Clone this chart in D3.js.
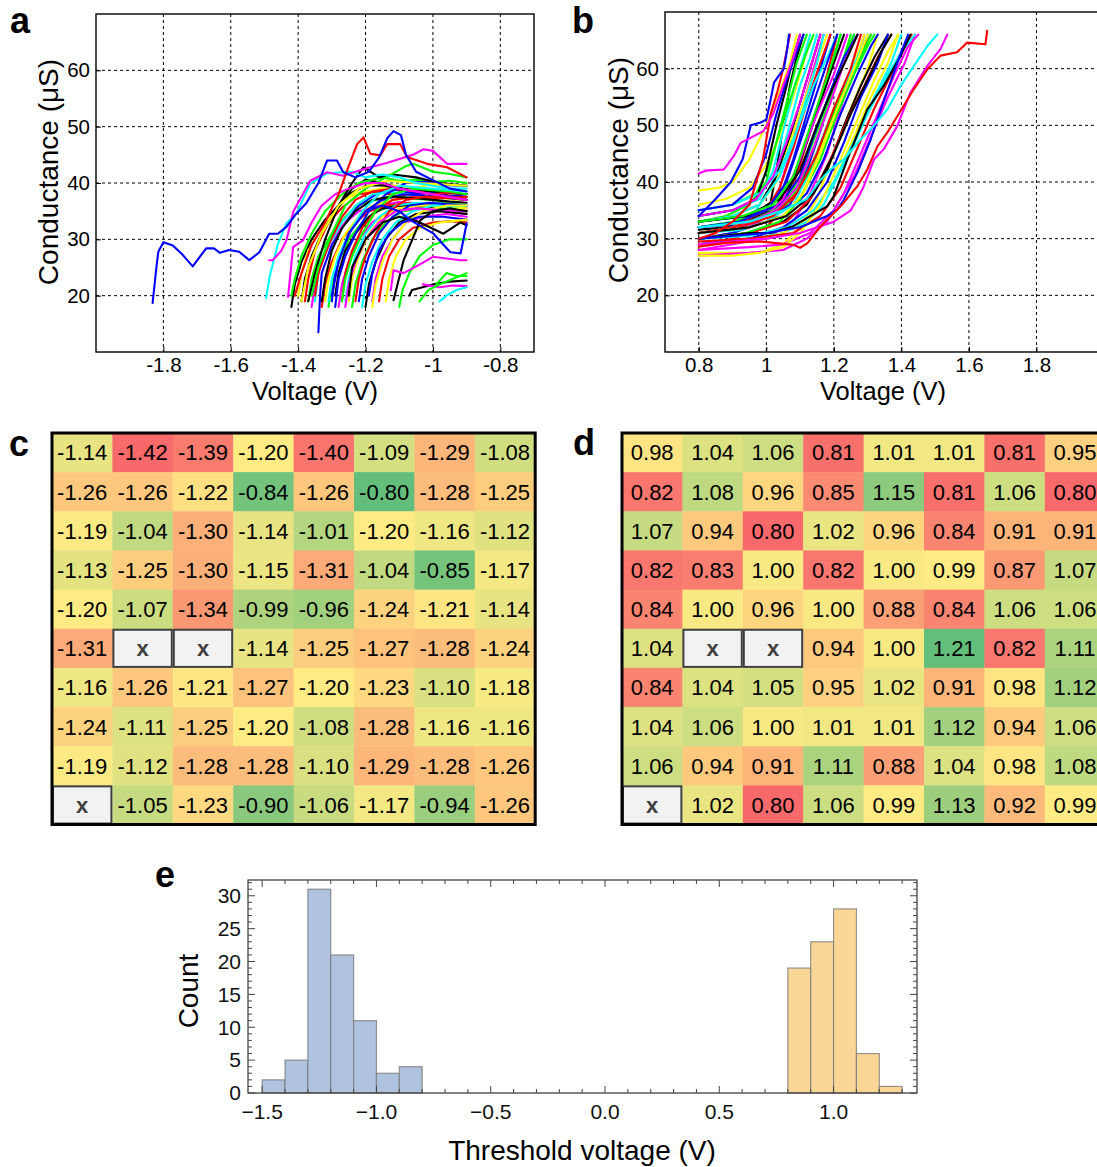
<!DOCTYPE html>
<html>
<head>
<meta charset="utf-8">
<script src="https://cdn.jsdelivr.net/npm/d3@7"></script>
<style>
  body { margin: 0; background: #fff; }
  svg { display: block; }
  text { font-family: "Liberation Sans", Arial, Helvetica, sans-serif; }
</style>
</head>
<body>
<svg id="fig" width="1097" height="1167"></svg>
<script>
// ---------- data ----------
// Panel a: negative-bias sweeps, each trace as flat [V, G, V, G, ...] (V in volts, G in µS)
const sweepsNeg = [
  [-1.42,18, -1.41,22, -1.39,26, -1.36,30, -1.32,33.5, -1.28,36, -1.24,39, -1.2,40.6, -1.15,40, -1.1,39.2, -1.05,38.4, -1.0,38.8, -0.95,37.6, -0.9,37.5],
  [-1.40,20, -1.39,24, -1.37,28, -1.34,31, -1.3,34.2, -1.26,37, -1.22,38.3, -1.17,38.8, -1.12,39.6, -1.05,39.2, -1.0,39.8, -0.95,38.7, -0.9,39],
  [-1.38,19, -1.37,23, -1.35,28, -1.31,33, -1.27,35.6, -1.22,38, -1.16,38.5, -1.1,37.6, -1.05,38.2, -1.0,37.4, -0.95,37.8, -0.9,37],
  [-1.37,19, -1.36,23, -1.34,27, -1.3,31, -1.26,34, -1.22,36.2, -1.17,37, -1.12,37.8, -1.06,37.2, -1.0,37, -0.95,36.4, -0.9,36],
  [-1.34,13.5, -1.335,20, -1.33,24, -1.3,29, -1.26,33, -1.22,36, -1.17,38, -1.12,38.9, -1.06,38.2, -1.0,38.3, -0.95,37.6, -0.9,38],
  [-1.39,19, -1.38,23, -1.36,27, -1.33,31, -1.29,35, -1.25,38, -1.2,39.5, -1.15,39.6, -1.1,39, -1.05,38.8, -1.0,38.5, -0.95,38.2, -0.9,38],
  [-1.36,18, -1.35,22, -1.33,26, -1.3,30, -1.26,33, -1.22,35, -1.16,36, -1.1,36.6, -1.04,36.2, -0.98,36, -0.9,35.5],
  [-1.35,19, -1.34,24, -1.31,29, -1.27,33, -1.23,36, -1.18,38, -1.12,38.4, -1.06,37.8, -1.0,37.5, -0.95,37.2, -0.9,37],
  [-1.33,18, -1.32,22, -1.3,26, -1.27,30, -1.23,33, -1.19,35, -1.13,36, -1.07,36.5, -1.0,36.2, -0.95,36, -0.9,36],
  [-1.32,19, -1.31,23, -1.29,27, -1.26,31, -1.22,34, -1.18,36, -1.12,37, -1.06,37.4, -1.0,37.6, -0.95,37.1, -0.9,37],
  [-1.31,18, -1.3,22, -1.28,26, -1.25,30, -1.21,33, -1.17,35, -1.11,36, -1.05,36.2, -1.0,35.8, -0.95,35.4, -0.9,35],
  [-1.3,19, -1.29,24, -1.27,28, -1.24,32, -1.2,35, -1.15,37, -1.09,38, -1.03,37.8, -0.97,37.4, -0.9,37],
  [-1.29,20, -1.28,24, -1.26,28, -1.23,31, -1.19,34, -1.15,35.5, -1.09,36, -1.03,35.8, -0.97,35.3, -0.9,35],
  [-1.28,18, -1.27,22, -1.25,26, -1.22,30, -1.18,33, -1.13,35, -1.07,35.5, -1.0,35.2, -0.95,34.8, -0.9,34.5],
  [-1.27,19, -1.26,24, -1.24,28, -1.21,32, -1.17,35, -1.12,37, -1.06,37.5, -1.0,37.2, -0.95,37.4, -0.9,37],
  [-1.26,19, -1.25,23, -1.23,27, -1.2,31, -1.16,34, -1.11,36, -1.05,36.5, -0.98,36.3, -0.9,36],
  [-1.25,19, -1.24,23, -1.22,27, -1.19,31, -1.15,34, -1.1,35.5, -1.04,36, -0.97,35.8, -0.9,35.5],
  [-1.24,18, -1.23,22, -1.21,26, -1.18,30, -1.14,33, -1.09,35, -1.03,35.5, -0.96,35.2, -0.9,35],
  [-1.22,19, -1.21,23, -1.19,27, -1.16,31, -1.12,34, -1.07,36, -1.01,36.5, -0.95,36.2, -0.9,36],
  [-1.2,18, -1.19,22, -1.17,26, -1.14,30, -1.1,33, -1.05,34.5, -0.98,35, -0.9,34.5],
  [-1.18,19, -1.17,23, -1.15,27, -1.12,30, -1.08,33, -1.03,34, -0.96,34.5, -0.9,34],
  [-1.16,19, -1.15,23, -1.13,27, -1.1,30, -1.06,32, -1.0,33, -0.95,33.2, -0.9,33],
  [-1.42,20, -1.41,23, -1.39,27, -1.36,31, -1.32,35, -1.27,38, -1.22,40, -1.15,41, -1.1,40.4, -1.05,40.6, -1.0,40.2, -0.95,40.4, -0.9,40],
  [-1.21,18, -1.2,22, -1.18,26, -1.15,30, -1.11,33, -1.06,35, -1.0,36, -0.95,35.8, -0.9,36],
  [-1.35,20, -1.34,24, -1.31,29, -1.27,34, -1.23,37, -1.18,38.5, -1.12,39, -1.06,38.6, -1.0,38, -0.95,38.3, -0.9,38],
  [-1.29,18, -1.28,23, -1.26,27, -1.23,31, -1.19,35, -1.14,38, -1.08,40, -1.02,40.2, -0.96,39.6, -0.9,39.5],
  [-1.18,18, -1.17,22, -1.15,26, -1.12,30, -1.08,33, -1.03,35, -0.96,36, -0.9,36],
  [-1.33,19, -1.32,23, -1.3,28, -1.27,32, -1.23,35, -1.18,37, -1.12,37.6, -1.05,37.3, -1.0,37, -0.95,36.7, -0.9,36.5],
  [-1.27,19, -1.26,23, -1.24,27, -1.21,31, -1.17,35, -1.12,38, -1.06,39, -1.0,38.7, -0.95,38.5, -0.9,38],
  [-1.23,19, -1.22,23, -1.2,27, -1.17,31, -1.13,35, -1.08,37, -1.02,37.6, -0.96,37.4, -0.9,37.5],
  [-1.31,19, -1.3,23, -1.28,27, -1.25,31, -1.21,35, -1.16,38, -1.1,39.5, -1.04,39.2, -0.98,38.9, -0.9,38.5],
  [-1.26,18, -1.25,22, -1.23,26, -1.2,30, -1.16,33, -1.11,35, -1.05,35.5, -0.98,35.2, -0.9,35],
  [-1.19,20, -1.18,24, -1.16,28, -1.13,31, -1.09,33, -1.04,34, -0.97,34, -0.9,33.5],
  [-1.37,19, -1.35,24, -1.32,30, -1.28,36, -1.24,40, -1.206,42.8, -1.16,41, -1.12,41.5, -1.05,41, -0.98,40, -0.9,39.5],
  [-1.36,20, -1.34,25, -1.3,31, -1.26,36, -1.2,39, -1.14,41, -1.08,43, -1.058,43.4, -1.0,42, -0.95,41.6, -0.9,41],
  [-1.39,19, -1.37,25, -1.33,31, -1.28,36, -1.22,39, -1.136,40.4, -1.05,40, -0.98,39.8, -0.9,39.5],
  [-1.1,18, -1.09,21, -1.07,24, -1.04,27, -1.0,29, -0.95,30, -0.9,30],
  [-1.14,19, -1.13,23, -1.11,27, -1.08,30, -1.04,32, -0.98,33, -0.9,33.5],
  [-1.07,20, -1.062,21, -1.0,22, -0.95,22.5, -0.9,22.7],
  [-0.99,22, -0.96,24, -0.93,23.5, -0.9,23.5],
  [-1.03,22, -0.98,21.5, -0.94,21.8, -0.9,21.7],
  [-1.04,19, -1.013,21, -0.98,22, -0.94,23, -0.9,24],
  [-0.98,19, -0.96,20, -0.93,21, -0.9,21.5],
  [-1.25,20, -1.24,25, -1.2,30, -1.15,33, -1.1,34, -1.047,33.2, -0.969,31, -0.918,33, -0.9,32.5],
  [-1.117,19.2, -1.087,26.3, -1.037,33.4, -1.0,35, -0.95,35.5, -0.9,35],
  [-1.125,21, -1.117,24.5, -1.087,24, -1.04,25.5, -1.0,26.9, -0.96,26.6, -0.918,26.3, -0.9,26.3],
  [-1.3,20, -1.28,26, -1.25,31, -1.2,35, -1.15,36, -1.1,35, -1.067,33.4, -0.998,31, -0.973,29.3, -0.948,27.7, -0.918,27.5, -0.91,29.8, -0.9,32.8],
  [-1.43,19.8, -1.415,28.6, -1.386,29.8, -1.36,33, -1.33,36, -1.29,38, -1.25,39, -1.2,40, -1.15,40, -1.1,39, -1.0,38, -0.9,37],
  [-1.495,19.6, -1.485,23.3, -1.46,29.2, -1.435,32.8, -1.405,34.6, -1.364,39.9, -1.314,41.7, -1.275,41.9, -1.24,42, -1.2,41, -1.15,41.5, -1.1,41, -1.05,40, -1.0,39.5, -0.95,39, -0.9,39],
  [-1.486,26.3, -1.475,26.3, -1.45,28, -1.435,29.8, -1.414,35, -1.364,40.4, -1.314,41.9, -1.266,41.3, -1.23,42, -1.186,42.8, -1.14,43.5, -1.097,44.3, -1.06,45, -1.028,46, -1.0,45.7, -0.958,43.4, -0.9,43.4],
  [-1.41,20, -1.39,24, -1.36,29, -1.32,33, -1.28,38, -1.25,43, -1.225,46.9, -1.206,48.1, -1.186,45.2, -1.156,44.9, -1.136,46.9, -1.097,46.9, -1.077,44.6, -1.017,43.4, -0.958,42.8, -0.9,41],
  [-1.832,18.7, -1.82,25.4, -1.815,27.8, -1.80,29.5, -1.772,28.9, -1.742,27.2, -1.713,25.2, -1.673,28.4, -1.65,28.4, -1.632,27.6, -1.605,28.1, -1.575,27.8, -1.545,26.3, -1.515,27.7, -1.486,31, -1.46,31, -1.435,32.2, -1.405,34.6, -1.376,36.4, -1.34,40, -1.314,44, -1.285,44, -1.266,41.9, -1.23,41, -1.19,42, -1.16,44.5, -1.135,48, -1.117,49.2, -1.095,48.5, -1.08,45, -1.05,42, -1.0,40.5, -0.95,39, -0.9,38.5]
];
// MATLAB colour letters for the traces of panel a, in drawing order
const traceColorsNeg = "kyrgbkmcrygbkmrcygbkmrgcrbykgrcmbkgygykgmgckkmbmcmrb".split("");

// Panel b: positive-bias sweeps
const sweepsPos = [
  [0.8,38.5, 0.86,39, 0.9,40, 0.95,44, 1.0,50, 1.04,56, 1.07,61, 1.09,66],
  [0.8,31.6, 0.885,32, 0.933,33.4, 0.983,35.1, 1.013,36.4, 1.03,42, 1.05,50, 1.07,57, 1.09,62, 1.11,66],
  [0.8,33, 0.88,34, 0.95,36, 1.0,40, 1.03,47, 1.06,54, 1.09,61, 1.12,66],
  [0.8,32, 0.9,33, 0.97,35, 1.02,40, 1.06,48, 1.1,57, 1.13,62, 1.15,66],
  [0.8,30, 0.9,31, 0.98,33, 1.03,37, 1.07,45, 1.1,52, 1.14,60, 1.17,66],
  [0.8,32, 0.9,32.5, 1.0,35, 1.05,39, 1.08,44, 1.12,52, 1.16,60, 1.19,66],
  [0.8,36, 0.88,37, 0.95,39, 1.0,43, 1.04,48, 1.08,55, 1.11,61, 1.13,66],
  [0.8,29, 0.9,30, 1.0,32, 1.06,36, 1.1,43, 1.14,51, 1.18,59, 1.21,66],
  [0.8,31, 0.9,32, 1.0,34, 1.06,38, 1.1,44, 1.14,51, 1.18,58, 1.22,66],
  [0.8,33, 0.9,34, 0.98,36, 1.03,41, 1.07,48, 1.11,56, 1.14,62, 1.16,66],
  [0.8,34, 0.9,35, 0.98,37, 1.02,42, 1.05,49, 1.08,56, 1.11,62, 1.13,66],
  [0.8,30, 0.9,31, 1.0,33, 1.07,36, 1.12,42, 1.16,49, 1.2,57, 1.24,63, 1.26,66],
  [0.8,28, 0.9,29, 1.0,30, 1.08,33, 1.13,38, 1.18,45, 1.22,53, 1.26,60, 1.29,66],
  [0.8,32, 0.9,33, 1.0,35, 1.06,37, 1.1,41, 1.15,49, 1.19,56, 1.23,62, 1.26,66],
  [0.8,31, 0.9,32, 1.0,34, 1.08,37, 1.14,43, 1.19,50, 1.24,58, 1.28,63, 1.31,66],
  [0.8,27.5, 0.9,27.5, 0.98,27.5, 1.05,29, 1.1,32, 1.15,37, 1.2,45, 1.25,53, 1.3,60, 1.33,66],
  [0.8,27, 0.95,27.5, 1.05,28, 1.12,30, 1.18,33, 1.23,38, 1.28,45, 1.33,52, 1.38,59, 1.42,64, 1.45,66],
  [0.8,29, 0.95,30, 1.05,31, 1.12,33, 1.17,36, 1.22,42, 1.27,48, 1.32,55, 1.37,61, 1.4,66],
  [0.8,33, 0.95,34, 1.05,36, 1.1,40, 1.14,46, 1.18,53, 1.22,60, 1.25,66],
  [0.8,32, 0.93,33, 1.02,35, 1.07,39, 1.12,47, 1.16,54, 1.2,61, 1.23,66],
  [0.8,30, 0.95,31, 1.04,33, 1.1,37, 1.15,44, 1.2,52, 1.25,59, 1.29,66],
  [0.8,33, 0.95,34, 1.04,36, 1.1,41, 1.14,48, 1.19,56, 1.23,62, 1.27,66],
  [0.8,32, 0.93,33, 1.0,35, 1.04,39, 1.08,46, 1.12,54, 1.16,61, 1.19,66],
  [0.8,35, 0.9,36, 0.97,38, 1.01,43, 1.05,51, 1.09,58, 1.12,63, 1.14,66],
  [0.8,31, 0.92,32, 1.0,34, 1.05,37, 1.1,44, 1.15,52, 1.2,59, 1.24,66],
  [0.8,31, 0.92,31.5, 1.0,33, 1.08,36, 1.13,42, 1.18,50, 1.23,57, 1.27,62, 1.3,66],
  [0.8,30, 0.95,31, 1.05,33, 1.12,36, 1.18,42, 1.23,50, 1.28,57, 1.32,62, 1.36,66],
  [0.8,31, 0.95,32, 1.05,34, 1.12,38, 1.17,44, 1.22,52, 1.27,59, 1.31,64, 1.33,66],
  [0.8,33, 0.9,34, 0.98,36, 1.03,40, 1.07,47, 1.11,54, 1.15,61, 1.18,66],
  [0.8,30, 0.95,31, 1.06,33, 1.13,37, 1.19,44, 1.24,51, 1.29,57, 1.33,62, 1.37,66],
  [0.8,32, 0.95,33, 1.06,36, 1.12,41, 1.17,48, 1.22,55, 1.27,61, 1.31,66],
  [0.8,34, 0.9,35, 0.97,37, 1.0,42, 1.03,50, 1.06,57, 1.08,62, 1.1,66],
  [0.8,33, 0.9,34, 0.98,36, 1.04,41, 1.08,47, 1.12,55, 1.15,61, 1.17,66],
  [0.8,32, 0.95,33, 1.03,35, 1.09,39, 1.14,46, 1.19,54, 1.23,61, 1.27,66],
  [0.8,29, 0.95,30, 1.05,32, 1.12,35, 1.18,40, 1.23,47, 1.28,55, 1.33,61, 1.36,66],
  [0.8,29, 0.95,29.5, 1.05,31, 1.13,34, 1.2,40, 1.26,48, 1.31,55, 1.36,61, 1.39,66],
  [0.8,31, 0.92,32, 1.02,34, 1.09,38, 1.15,45, 1.2,53, 1.25,60, 1.28,66],
  [0.8,30, 0.94,31, 1.04,33, 1.1,37, 1.16,44, 1.21,52, 1.26,59, 1.3,64, 1.32,66],
  [0.8,33, 0.94,34, 1.04,37, 1.1,42, 1.15,50, 1.2,57, 1.24,62, 1.27,66],
  [0.8,35, 0.9,36, 0.98,38, 1.04,42, 1.09,49, 1.14,57, 1.18,62, 1.21,66],
  [0.8,28, 0.95,28.5, 1.05,29, 1.13,31, 1.2,35, 1.26,41, 1.31,48, 1.36,55, 1.41,61, 1.44,66],
  [0.8,32, 0.92,33, 1.0,35, 1.06,40, 1.1,47, 1.14,54, 1.18,61, 1.21,66],
  [0.8,31, 0.95,32, 1.05,34, 1.11,38, 1.16,45, 1.21,53, 1.26,60, 1.3,66],
  [0.8,29.5, 0.95,30, 1.08,31, 1.16,34, 1.22,39, 1.27,46, 1.32,53, 1.37,59, 1.41,64, 1.43,66],
  [0.8,33, 0.93,34, 1.02,36, 1.08,41, 1.12,48, 1.16,55, 1.2,62, 1.22,66],
  [0.8,31, 0.95,32, 1.06,34, 1.14,38, 1.2,45, 1.25,52, 1.3,58, 1.34,63, 1.37,66],
  [0.8,34, 0.9,35, 0.97,37, 1.02,41, 1.06,47, 1.1,54, 1.13,60, 1.16,66],
  [0.8,30, 0.95,30.5, 1.06,32, 1.14,35, 1.2,40, 1.25,46, 1.3,52, 1.35,58, 1.4,63, 1.44,66],
  [0.8,27, 0.9,27, 0.98,27.5, 1.05,28.5, 1.1,31, 1.16,36, 1.22,44, 1.27,51, 1.32,58, 1.36,63, 1.39,66],
  [0.8,35, 0.9,36, 0.96,39, 1.0,45, 1.03,52, 1.06,58, 1.09,63, 1.11,66],
  [0.8,30, 0.95,31, 1.013,31, 1.08,32.2, 1.131,34, 1.18,35.7, 1.2,37.5, 1.24,44, 1.299,52.8, 1.348,57, 1.398,62.3, 1.427,66],
  [0.8,30, 1.0,31, 1.1,32, 1.18,34, 1.21,35.1, 1.23,36.9, 1.27,41.7, 1.309,47.5, 1.34,53, 1.37,58, 1.4,63, 1.42,66],
  [0.8,32, 0.95,33, 1.05,35, 1.12,37, 1.161,40.4, 1.19,42.2, 1.23,44, 1.279,47.5, 1.318,49.9, 1.358,52.8, 1.398,57, 1.437,60.5, 1.477,64, 1.506,66],
  [0.8,29, 1.0,30, 1.1,31, 1.2,33, 1.25,35, 1.274,37.5, 1.289,39.3, 1.319,44, 1.348,45.8, 1.388,49.9, 1.427,55.8, 1.477,60.5, 1.516,63.5, 1.536,66],
  [0.8,28.6, 0.885,29.3, 0.983,29.5, 1.08,28.9, 1.10,28.4, 1.122,29.2, 1.161,32.2, 1.22,35.7, 1.27,39.3, 1.299,42.2, 1.329,46.3, 1.358,48.7, 1.388,51.6, 1.437,56.4, 1.477,59.9, 1.516,62.3, 1.565,62.9, 1.595,64.6, 1.649,64.3, 1.654,66.7],
  [0.8,30, 0.85,31, 0.9,33, 0.95,36, 0.99,44, 1.013,52, 1.033,56, 1.05,60, 1.07,66],
  [0.8,34, 0.85,37, 0.895,40, 0.93,44, 0.954,50, 0.983,50.5, 1.0,51, 1.013,54.6, 1.023,57.6, 1.052,60, 1.062,63.5, 1.067,66],
  [0.8,41.5, 0.82,42, 0.874,42.2, 0.904,44.6, 0.924,46.9, 0.963,48.1, 0.992,49, 1.02,52, 1.05,57, 1.08,62, 1.1,66]
];
const traceColorsPos = ("ykgcmbyrgkcbmgr" + "y" + "mcgkybrgmc" + "kbyrgkcmby" + "rgkcmbyrgk" + "mcyb" + "kbcmrrbm").split("");

// Panels c and d: threshold voltage per device (V); null = device missing
const thresholdsNeg = [
  [-1.14, -1.42, -1.39, -1.20, -1.40, -1.09, -1.29, -1.08],
  [-1.26, -1.26, -1.22, -0.84, -1.26, -0.80, -1.28, -1.25],
  [-1.19, -1.04, -1.30, -1.14, -1.01, -1.20, -1.16, -1.12],
  [-1.13, -1.25, -1.30, -1.15, -1.31, -1.04, -0.85, -1.17],
  [-1.20, -1.07, -1.34, -0.99, -0.96, -1.24, -1.21, -1.14],
  [-1.31, null, null, -1.14, -1.25, -1.27, -1.28, -1.24],
  [-1.16, -1.26, -1.21, -1.27, -1.20, -1.23, -1.10, -1.18],
  [-1.24, -1.11, -1.25, -1.20, -1.08, -1.28, -1.16, -1.16],
  [-1.19, -1.12, -1.28, -1.28, -1.10, -1.29, -1.28, -1.26],
  [null, -1.05, -1.23, -0.90, -1.06, -1.17, -0.94, -1.26]
];
const thresholdsPos = [
  [0.98, 1.04, 1.06, 0.81, 1.01, 1.01, 0.81, 0.95],
  [0.82, 1.08, 0.96, 0.85, 1.15, 0.81, 1.06, 0.80],
  [1.07, 0.94, 0.80, 1.02, 0.96, 0.84, 0.91, 0.91],
  [0.82, 0.83, 1.00, 0.82, 1.00, 0.99, 0.87, 1.07],
  [0.84, 1.00, 0.96, 1.00, 0.88, 0.84, 1.06, 1.06],
  [1.04, null, null, 0.94, 1.00, 1.21, 0.82, 1.11],
  [0.84, 1.04, 1.05, 0.95, 1.02, 0.91, 0.98, 1.12],
  [1.04, 1.06, 1.00, 1.01, 1.01, 1.12, 0.94, 1.06],
  [1.06, 0.94, 0.91, 1.11, 0.88, 1.04, 0.98, 1.08],
  [null, 1.02, 0.80, 1.06, 0.99, 1.13, 0.92, 0.99]
];

// Panel e: histogram of threshold voltages, bins of 0.1 V
const binStartsNeg = [-1.5, -1.4, -1.3, -1.2, -1.1, -1.0, -0.9];
const countsNeg    = [2, 5, 31, 21, 11, 3, 4];
const binStartsPos = [0.8, 0.9, 1.0, 1.1, 1.2];
const countsPos    = [19, 23, 28, 6, 1];
const binWidth = 0.1;

// tick labels
const ticksNegV = [-1.8, -1.6, -1.4, -1.2, -1, -0.8];
const tickLabelsNegV = ["-1.8", "-1.6", "-1.4", "-1.2", "-1", "-0.8"];
const ticksPosV = [0.8, 1, 1.2, 1.4, 1.6, 1.8];
const tickLabelsPosV = ["0.8", "1", "1.2", "1.4", "1.6", "1.8"];
const ticksG = [20, 30, 40, 50, 60];
const ticksHistX = [-1.5, -1.0, -0.5, 0.0, 0.5, 1.0];
const tickLabelsHistX = ["\u22121.5", "\u22121.0", "\u22120.5", "0.0", "0.5", "1.0"];
const ticksHistY = [0, 5, 10, 15, 20, 25, 30];

// ---------- drawing ----------
const svg = d3.select("#fig");
const matlab = { b: "#0000ff", g: "#00ff00", r: "#ff0000", c: "#00ffff", m: "#ff00ff", y: "#ffff00", k: "#000000" };

function toPairs(flat) {
  const out = [];
  for (let i = 0; i < flat.length; i += 2) out.push([flat[i], flat[i + 1]]);
  return out;
}

function sweepPanel(opt) {
  const { x, y, xTicks, xLabels, traces, colors, clipId } = opt;
  const [X0, X1] = x.range();
  const [Y1, Y0] = y.range();
  const g = svg.append("g");
  g.append("clipPath").attr("id", clipId)
    .append("rect").attr("x", X0).attr("y", Y0).attr("width", X1 - X0).attr("height", Y1 - Y0);

  // dashed grid (the 2.0 V line sits just past the right edge of panel b)
  const grid = g.append("g").attr("stroke", "#000").attr("stroke-width", 1)
    .attr("stroke-dasharray", "3,3").attr("clip-path", `url(#${clipId})`);
  grid.selectAll(".gx").data(xTicks).join("line")
    .attr("x1", d => x(d)).attr("x2", d => x(d)).attr("y1", Y0).attr("y2", Y1);
  grid.selectAll(".gy").data(ticksG).join("line")
    .attr("x1", X0).attr("x2", X1).attr("y1", d => y(d)).attr("y2", d => y(d));

  // traces
  const line = d3.line().x(d => x(d[0])).y(d => y(d[1]));
  g.append("g").attr("clip-path", `url(#${clipId})`)
    .selectAll("path").data(traces).join("path")
    .attr("d", d => line(toPairs(d)))
    .attr("fill", "none")
    .attr("stroke", (d, i) => matlab[colors[i]])
    .attr("stroke-width", 2.1)
    .attr("stroke-linejoin", "round")
    .attr("stroke-linecap", "round");

  // box
  g.append("rect").attr("x", X0).attr("y", Y0).attr("width", X1 - X0).attr("height", Y1 - Y0)
    .attr("fill", "none").attr("stroke", "#000").attr("stroke-width", 1.4);

  // axes (ticks point inward)
  const ax = g.append("g").attr("transform", `translate(0,${Y1})`)
    .call(d3.axisBottom(x).tickValues(xTicks).tickFormat((d, i) => xLabels[i])
      .tickSizeInner(-5).tickSizeOuter(0).tickPadding(5));
  const ay = g.append("g").attr("transform", `translate(${X0},0)`)
    .call(d3.axisLeft(y).tickValues(ticksG).tickFormat(d3.format("d"))
      .tickSizeInner(-5).tickSizeOuter(0).tickPadding(6));
  [ax, ay].forEach(a => {
    a.select(".domain").remove();
    a.selectAll("line").attr("stroke", "#000").attr("stroke-width", 1);
    a.selectAll("text").attr("fill", "#000").style("font-size", "20.5px")
      .style("font-family", '"Liberation Sans", Arial, sans-serif');
  });
  return g;
}

// Panel a
const xNeg = d3.scaleLinear([-2.0, -0.7], [96, 534]);
const yNeg = d3.scaleLinear([10, 70], [352, 14]);
sweepPanel({ x: xNeg, y: yNeg, xTicks: ticksNegV, xLabels: tickLabelsNegV,
  traces: sweepsNeg, colors: traceColorsNeg, clipId: "clipA" });

// Panel b
const xPos = d3.scaleLinear([0.7, 2.0], [665, 1104]);
const yPos = d3.scaleLinear([10, 70], [352, 12]);
sweepPanel({ x: xPos, y: yPos, xTicks: ticksPosV.concat([2.0]), xLabels: tickLabelsPosV.concat([""]),
  traces: sweepsPos, colors: traceColorsPos, clipId: "clipB" });

// axis titles for a and b
function axisTitles(cx, yLabelX, cy) {
  svg.append("text").attr("x", cx).attr("y", 400).attr("text-anchor", "middle")
    .style("font-size", "25.5px").text("Voltage (V)");
  svg.append("text").attr("transform", `translate(${yLabelX},${cy}) rotate(-90)`)
    .attr("text-anchor", "middle").style("font-size", "28px").text("Conductance (\u03bcS)");
}
axisTitles(315, 58, 172);
axisTitles(883, 628, 170);

// Heat maps
function heatPanel(values, x0, y0) {
  const cw = 60.4, ch = 39.15;
  const flat = values.flat().filter(v => v !== null).sort(d3.ascending);
  const color = d3.scaleLinear()
    .domain([flat[0], d3.quantileSorted(flat, 0.5), flat[flat.length - 1]])
    .range(["#f8696b", "#ffeb84", "#63be7b"]);
  const xs = d3.scaleBand().domain(d3.range(values[0].length)).range([x0, x0 + cw * values[0].length]);
  const ys = d3.scaleBand().domain(d3.range(values.length)).range([y0, y0 + ch * values.length]);
  const cells = [];
  values.forEach((row, r) => row.forEach((v, c) => cells.push({ r, c, v })));
  const g = svg.append("g");
  g.selectAll("rect.cell").data(cells.filter(d => d.v !== null)).join("rect")
    .attr("x", d => xs(d.c)).attr("y", d => ys(d.r))
    .attr("width", xs.bandwidth() + 0.5).attr("height", ys.bandwidth() + 0.5)
    .attr("fill", d => color(d.v));
  g.selectAll("text.val").data(cells.filter(d => d.v !== null)).join("text")
    .attr("x", d => xs(d.c) + xs.bandwidth() / 2).attr("y", d => ys(d.r) + ys.bandwidth() / 2)
    .attr("dy", "0.36em").attr("text-anchor", "middle")
    .style("font-size", "22px").attr("fill", "#000")
    .text(d => d.v.toFixed(2));
  const miss = cells.filter(d => d.v === null);
  g.selectAll("rect.miss").data(miss).join("rect")
    .attr("x", d => xs(d.c) + 1).attr("y", d => ys(d.r) + 1)
    .attr("width", xs.bandwidth() - 2).attr("height", ys.bandwidth() - 2)
    .attr("fill", "#f2f2f2").attr("stroke", "#3f3f3f").attr("stroke-width", 2);
  g.selectAll("text.miss").data(miss).join("text")
    .attr("x", d => xs(d.c) + xs.bandwidth() / 2).attr("y", d => ys(d.r) + ys.bandwidth() / 2)
    .attr("dy", "0.36em").attr("text-anchor", "middle")
    .style("font-size", "22px").style("font-weight", "bold").attr("fill", "#404040")
    .text("x");
  g.append("rect").attr("x", x0).attr("y", y0)
    .attr("width", cw * values[0].length).attr("height", ch * values.length)
    .attr("fill", "none").attr("stroke", "#000").attr("stroke-width", 3);
}
heatPanel(thresholdsNeg, 52, 433);
heatPanel(thresholdsPos, 622, 433);

// Panel e: histogram
const xH = d3.scaleLinear([-1.562, 1.365], [248, 917]);
const yH = d3.scaleLinear([0, 32.4], [1093, 880]);
const gh = svg.append("g");
function bars(starts, counts, fill) {
  gh.append("g").selectAll("rect").data(starts.map((s, i) => ({ s, n: counts[i] }))).join("rect")
    .attr("x", d => xH(d.s)).attr("width", d => xH(d.s + binWidth) - xH(d.s))
    .attr("y", d => yH(d.n)).attr("height", d => yH(0) - yH(d.n))
    .attr("fill", fill).attr("stroke", "#7a7a7a").attr("stroke-opacity", 0.8).attr("stroke-width", 1.2);
}
bars(binStartsNeg, countsNeg, "#b0c3de");
bars(binStartsPos, countsPos, "#fbd797");

const [HX0, HX1] = xH.range();
const [HY1, HY0] = yH.range();
gh.append("rect").attr("x", HX0).attr("y", HY0).attr("width", HX1 - HX0).attr("height", HY1 - HY0)
  .attr("fill", "none").attr("stroke", "#333").attr("stroke-width", 1.2);

const minorX = d3.range(-15, 14).map(k => k / 10);
const minorY = d3.range(0, 33);
const tk = gh.append("g").attr("stroke", "#444").attr("stroke-width", 1);
minorX.forEach(v => {
  const major = ticksHistX.some(t => Math.abs(t - v) < 1e-9);
  const L = major ? 7 : 4;
  tk.append("line").attr("x1", xH(v)).attr("x2", xH(v)).attr("y1", HY1).attr("y2", HY1 - L);
  tk.append("line").attr("x1", xH(v)).attr("x2", xH(v)).attr("y1", HY0).attr("y2", HY0 + L);
});
minorY.forEach(v => {
  const major = v % 5 === 0;
  const L = major ? 7 : 4;
  tk.append("line").attr("x1", HX0).attr("x2", HX0 + L).attr("y1", yH(v)).attr("y2", yH(v));
  tk.append("line").attr("x1", HX1).attr("x2", HX1 - L).attr("y1", yH(v)).attr("y2", yH(v));
});
gh.selectAll("text.hx").data(ticksHistX).join("text")
  .attr("x", d => xH(d)).attr("y", 1119).attr("text-anchor", "middle")
  .style("font-size", "21px").attr("fill", "#111")
  .text((d, i) => tickLabelsHistX[i]);
gh.selectAll("text.hy").data(ticksHistY).join("text")
  .attr("x", 241).attr("y", d => yH(d)).attr("dy", "0.35em").attr("text-anchor", "end")
  .style("font-size", "21px").attr("fill", "#111")
  .text(d => d);
gh.append("text").attr("x", 582).attr("y", 1160).attr("text-anchor", "middle")
  .style("font-size", "28px").text("Threshold voltage (V)");
gh.append("text").attr("transform", "translate(198,991) rotate(-90)").attr("text-anchor", "middle")
  .style("font-size", "28px").text("Count");

// panel letters
[["a", 10, 33], ["b", 572, 33], ["c", 9, 456], ["d", 573, 455], ["e", 155, 887]].forEach(([t, x, y]) => {
  svg.append("text").attr("x", x).attr("y", y).style("font-size", "36px")
    .style("font-weight", "bold").text(t);
});
</script>
</body>
</html>
